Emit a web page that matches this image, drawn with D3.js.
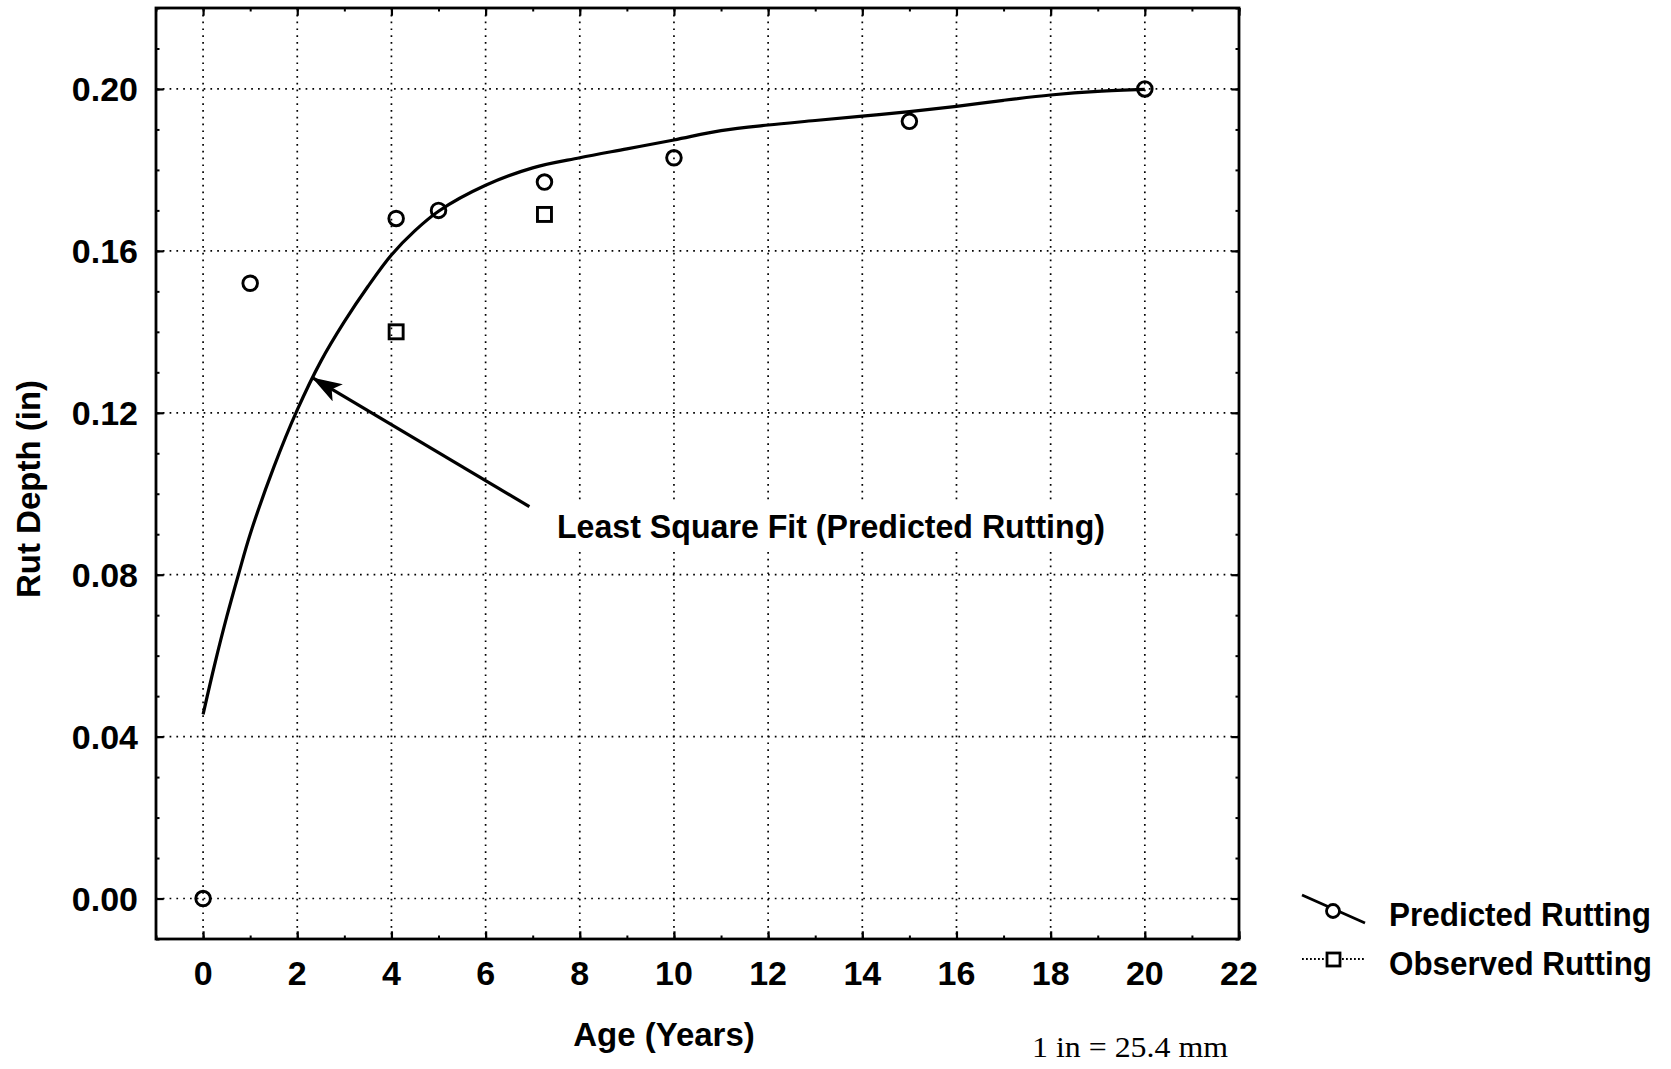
<!DOCTYPE html>
<html lang="en">
<head>
<meta charset="UTF-8" />
<title>Rut Depth vs Age</title>
<script src="https://d3js.org/d3.v7.min.js"></script>
<style>
  html, body { margin: 0; padding: 0; background: #fff; }
  svg { display: block; }
  .lbl { font-family: "Liberation Sans", Arial, sans-serif; font-weight: bold; fill: #000; }
  .grid line { stroke: #000; stroke-width: 1.7; stroke-dasharray: 1.7 5.1; }
</style>
</head>
<body>
<div id="chart"></div>
<script>
    // --- datos ---
    const xTicks = [0, 2, 4, 6, 8, 10, 12, 14, 16, 18, 20, 22];
    const yTicks = [0.00, 0.04, 0.08, 0.12, 0.16, 0.20];

    const predAge = [0, 1, 4.1, 5, 7.25, 10, 15, 20];
    const predDepth = [0.000, 0.152, 0.168, 0.170, 0.177, 0.183, 0.192, 0.200];

    const obsAge = [4.1, 7.25];
    const obsDepth = [0.140, 0.169];

    // curva de ajuste por minimos cuadrados (puntos leidos)
    const fitAge = [0, 0.25, 0.5, 0.75, 1, 1.5, 2, 2.5, 3, 3.5, 4, 4.5, 5, 6, 7, 8, 9, 10, 11, 12, 13, 14, 15, 16, 17, 18, 19, 20];
    const fitDepth = [0.0455, 0.0580, 0.0695, 0.0800, 0.0900, 0.1065, 0.1207, 0.1327, 0.1425, 0.1512, 0.1590, 0.1650, 0.1698, 0.1762, 0.1805, 0.1830, 0.1852, 0.1874, 0.1897, 0.1911, 0.1922, 0.1933, 0.1944, 0.1957, 0.1972, 0.1985, 0.1994, 0.1999];

    const arrowFrom = [6.93, 0.0968];
    const arrowTo = [2.33, 0.1286];
    const noteText = "Least Square Fit (Predicted Rutting)";

    const W = 1671, H = 1069;
    const plot = { left: 156, top: 8, right: 1239, bottom: 939 };

    const svg = d3.select("#chart").append("svg")
        .attr("width", W)
        .attr("height", H);

    const x = d3.scaleLinear().domain([-1, 22]).range([plot.left, plot.right]);
    const y = d3.scaleLinear().domain([-0.01, 0.22]).range([plot.bottom, plot.top]);

    // rejilla punteada
    const grid = svg.append("g").attr("class", "grid");
    grid.selectAll("line.v")
        .data(xTicks.filter(d => d < 22))
        .enter().append("line")
        .attr("x1", d => x(d)).attr("x2", d => x(d))
        .attr("y1", plot.top).attr("y2", plot.bottom);
    grid.selectAll("line.h")
        .data(yTicks)
        .enter().append("line")
        .attr("x1", plot.left).attr("x2", plot.right)
        .attr("y1", d => y(d)).attr("y2", d => y(d));

    // ticks hacia adentro en los cuatro lados
    const minorX = d3.range(-1, 23, 1);
    const minorY = d3.range(-0.01, 0.2201, 0.01);
    function ticks(axis, pos, vals, size, minorVals) {
        const g = svg.append("g").attr("transform", pos).call(
            axis.tickValues(minorVals).tickSize(-size).tickFormat("")
        );
        g.select(".domain").remove();
        g.selectAll("line").attr("stroke", "#000").attr("stroke-width", 2);
        const g2 = svg.append("g").attr("transform", pos).call(
            axis.tickValues(vals).tickSize(-size * 2.2).tickFormat("")
        );
        g2.select(".domain").remove();
        g2.selectAll("line").attr("stroke", "#000").attr("stroke-width", 2.2);
    }
    ticks(d3.axisBottom(x), `translate(0,${plot.bottom})`, xTicks, 3.5, minorX);
    ticks(d3.axisTop(x), `translate(0,${plot.top})`, xTicks, 3.5, minorX);
    ticks(d3.axisLeft(y), `translate(${plot.left},0)`, yTicks, 3.5, minorY);
    ticks(d3.axisRight(y), `translate(${plot.right},0)`, yTicks, 3.5, minorY);

    // marco
    svg.append("rect")
        .attr("x", plot.left).attr("y", plot.top)
        .attr("width", plot.right - plot.left)
        .attr("height", plot.bottom - plot.top)
        .attr("fill", "none")
        .attr("stroke", "#000")
        .attr("stroke-width", 2.8);

    // etiquetas de ejes
    svg.append("g").selectAll("text")
        .data(xTicks)
        .enter().append("text")
        .attr("class", "lbl")
        .attr("x", d => x(d))
        .attr("y", 985)
        .attr("text-anchor", "middle")
        .attr("font-size", 34)
        .text(d => d);

    svg.append("g").selectAll("text")
        .data(yTicks)
        .enter().append("text")
        .attr("class", "lbl")
        .attr("x", 138)
        .attr("y", d => y(d) + 12)
        .attr("text-anchor", "end")
        .attr("font-size", 34)
        .text(d => d3.format(".2f")(d));

    svg.append("text")
        .attr("class", "lbl")
        .attr("transform", "translate(40,489) rotate(-90)")
        .attr("text-anchor", "middle")
        .attr("font-size", 33)
        .text("Rut Depth (in)");

    svg.append("text")
        .attr("class", "lbl")
        .attr("x", 664).attr("y", 1046)
        .attr("text-anchor", "middle")
        .attr("font-size", 33)
        .text("Age (Years)");

    svg.append("text")
        .attr("x", 1032).attr("y", 1057)
        .attr("font-family", "'Liberation Serif', 'Times New Roman', serif")
        .attr("font-size", 30)
        .attr("textLength", 196)
        .attr("lengthAdjust", "spacingAndGlyphs")
        .text("1 in = 25.4 mm");

    // curva de ajuste
    const fit = fitAge.map((a, i) => [a, fitDepth[i]]);
    svg.append("path")
        .datum(fit)
        .attr("fill", "none")
        .attr("stroke", "#000")
        .attr("stroke-width", 3.2)
        .attr("d", d3.line().x(d => x(d[0])).y(d => y(d[1])).curve(d3.curveCatmullRom.alpha(0.5)));

    // puntos
    svg.append("g").selectAll("circle")
        .data(predAge.map((a, i) => [a, predDepth[i]]))
        .enter().append("circle")
        .attr("cx", d => x(d[0]))
        .attr("cy", d => y(d[1]))
        .attr("r", 7.3)
        .attr("fill", "none")
        .attr("stroke", "#000")
        .attr("stroke-width", 2.9);

    svg.append("g").selectAll("rect")
        .data(obsAge.map((a, i) => [a, obsDepth[i]]))
        .enter().append("rect")
        .attr("x", d => x(d[0]) - 7)
        .attr("y", d => y(d[1]) - 7)
        .attr("width", 14).attr("height", 14)
        .attr("fill", "none")
        .attr("stroke", "#000")
        .attr("stroke-width", 2.9);

    // anotacion con flecha
    const defs = svg.append("defs");
    defs.append("marker")
        .attr("id", "arrow")
        .attr("viewBox", "0 0 30 20")
        .attr("refX", 29).attr("refY", 10)
        .attr("markerWidth", 30).attr("markerHeight", 20)
        .attr("markerUnits", "userSpaceOnUse")
        .attr("orient", "auto")
        .append("path")
        .attr("d", "M0,0 L30,10 L0,20 L7,10 Z")
        .attr("fill", "#000");

    svg.append("line")
        .attr("x1", x(arrowFrom[0])).attr("y1", y(arrowFrom[1]))
        .attr("x2", x(arrowTo[0])).attr("y2", y(arrowTo[1]))
        .attr("stroke", "#000")
        .attr("stroke-width", 3.2)
        .attr("marker-end", "url(#arrow)");

    svg.append("rect")
        .attr("x", 550).attr("y", 500)
        .attr("width", 564).attr("height", 52)
        .attr("fill", "#fff");
    svg.append("text")
        .attr("class", "lbl")
        .attr("x", 557).attr("y", 538)
        .attr("font-size", 34)
        .attr("textLength", 548)
        .attr("lengthAdjust", "spacingAndGlyphs")
        .text(noteText);

    // leyenda
    const leg = svg.append("g");
    leg.append("line")
        .attr("x1", 1302).attr("y1", 895).attr("x2", 1365).attr("y2", 923)
        .attr("stroke", "#000").attr("stroke-width", 2.8);
    leg.append("circle")
        .attr("cx", 1333).attr("cy", 911).attr("r", 6.5)
        .attr("fill", "#fff").attr("stroke", "#000").attr("stroke-width", 2.8);
    leg.append("text")
        .attr("class", "lbl")
        .attr("x", 1389).attr("y", 926)
        .attr("font-size", 33)
        .attr("textLength", 262)
        .attr("lengthAdjust", "spacingAndGlyphs")
        .text("Predicted Rutting");

    leg.append("line")
        .attr("x1", 1302).attr("y1", 959).attr("x2", 1365).attr("y2", 959)
        .attr("stroke", "#000").attr("stroke-width", 1.8)
        .attr("stroke-dasharray", "1.8 2.2");
    leg.append("rect")
        .attr("x", 1327).attr("y", 953).attr("width", 13).attr("height", 13)
        .attr("fill", "#fff").attr("stroke", "#000").attr("stroke-width", 2.8);
    leg.append("text")
        .attr("class", "lbl")
        .attr("x", 1389).attr("y", 975)
        .attr("font-size", 33)
        .attr("textLength", 263)
        .attr("lengthAdjust", "spacingAndGlyphs")
        .text("Observed Rutting");
</script>
</body>
</html>
